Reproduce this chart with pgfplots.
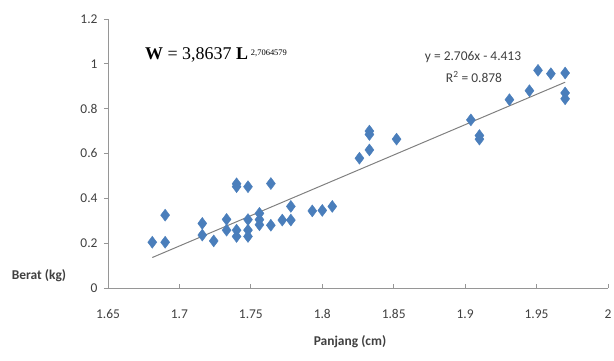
\documentclass[border=0pt]{standalone}
\usepackage{pgfplots}
\pgfplotsset{compat=1.18}
\usepackage{fontspec}
\setmainfont{Carlito}
\newfontfamily\timesf{Liberation Serif}
\definecolor{markblue}{RGB}{74,126,187}
\definecolor{lblgray}{RGB}{64,64,64}
\definecolor{axgray}{RGB}{150,150,150}
\definecolor{trendgray}{RGB}{128,128,128}
\begin{document}
\begin{tikzpicture}
\useasboundingbox (-108bp,-73bp) rectangle (506bp,288bp);
\begin{axis}[
  scale only axis,
  anchor=south west,
  at={(0,0)},
  width=500bp, height=269bp,
  xmin=1.65, xmax=2, ymin=0, ymax=1.2,
  xtick={1.65,1.7,1.75,1.8,1.85,1.9,1.95,2},
  xticklabels={1.65,1.7,1.75,1.8,1.85,1.9,1.95,2},
  ytick={0,0.2,0.4,0.6,0.8,1,1.2},
  yticklabels={0,0.2,0.4,0.6,0.8,1,1.2},
  axis x line*=bottom, axis y line*=left,
  axis line style={axgray, line width=0.8pt},
  tick style={axgray, line width=0.8pt},
  major tick length=4bp,
  tick align=outside,
  xtick style={yshift=4bp},
  ticklabel style={font=\fontsize{13.5}{15}\selectfont, text=lblgray},
  xticklabel style={yshift=-14bp},
  yticklabel style={xshift=-3bp},
  /pgf/number format/assume math mode=true,
  clip=false,
]
\addplot[only marks, mark=diamond*, mark size=6bp, mark options={fill=markblue, draw=markblue}] coordinates {
(1.681,0.204) (1.690,0.204) (1.690,0.325)
(1.716,0.288) (1.716,0.236) (1.724,0.210)
(1.733,0.306) (1.733,0.258)
(1.740,0.465) (1.740,0.452) (1.740,0.258) (1.740,0.230)
(1.748,0.452) (1.748,0.305) (1.748,0.258) (1.748,0.230)
(1.756,0.333) (1.756,0.305) (1.756,0.282)
(1.764,0.466) (1.764,0.280)
(1.772,0.303)
(1.778,0.364) (1.778,0.303)
(1.793,0.344) (1.800,0.346) (1.807,0.364)
(1.826,0.579) (1.833,0.616) (1.833,0.685) (1.833,0.700)
(1.852,0.664)
(1.904,0.750) (1.910,0.664) (1.910,0.680)
(1.931,0.840) (1.945,0.880) (1.951,0.971) (1.960,0.956)
(1.970,0.959) (1.970,0.870) (1.970,0.844)
};
\addplot[trendgray, line width=1pt] coordinates {(1.681,0.136) (1.970,0.918)};
\end{axis}
\node[anchor=west, inner sep=0pt] at (37bp,233bp) {\timesf\fontsize{18}{20}\selectfont\textbf{W} = 3,8637 \textbf{L}\,\raisebox{4bp}{\fontsize{8.5}{9}\selectfont 2,7064579}};
\node[inner sep=0pt, text=lblgray] at (365bp,231bp) {\fontsize{13.5}{15}\selectfont y = 2.706x - 4.413};
\node[inner sep=0pt, text=lblgray] at (366bp,211bp) {\fontsize{13.5}{15}\selectfont R\textsuperscript{2} = 0.878};
\node[inner sep=0pt, text=lblgray] at (-69bp,12bp) {\fontsize{13.5}{15}\selectfont\bfseries Berat (kg)};
\node[inner sep=0pt, text=lblgray] at (242bp,-54bp) {\fontsize{13.5}{15}\selectfont\bfseries Panjang (cm)};
\end{tikzpicture}
\end{document}
